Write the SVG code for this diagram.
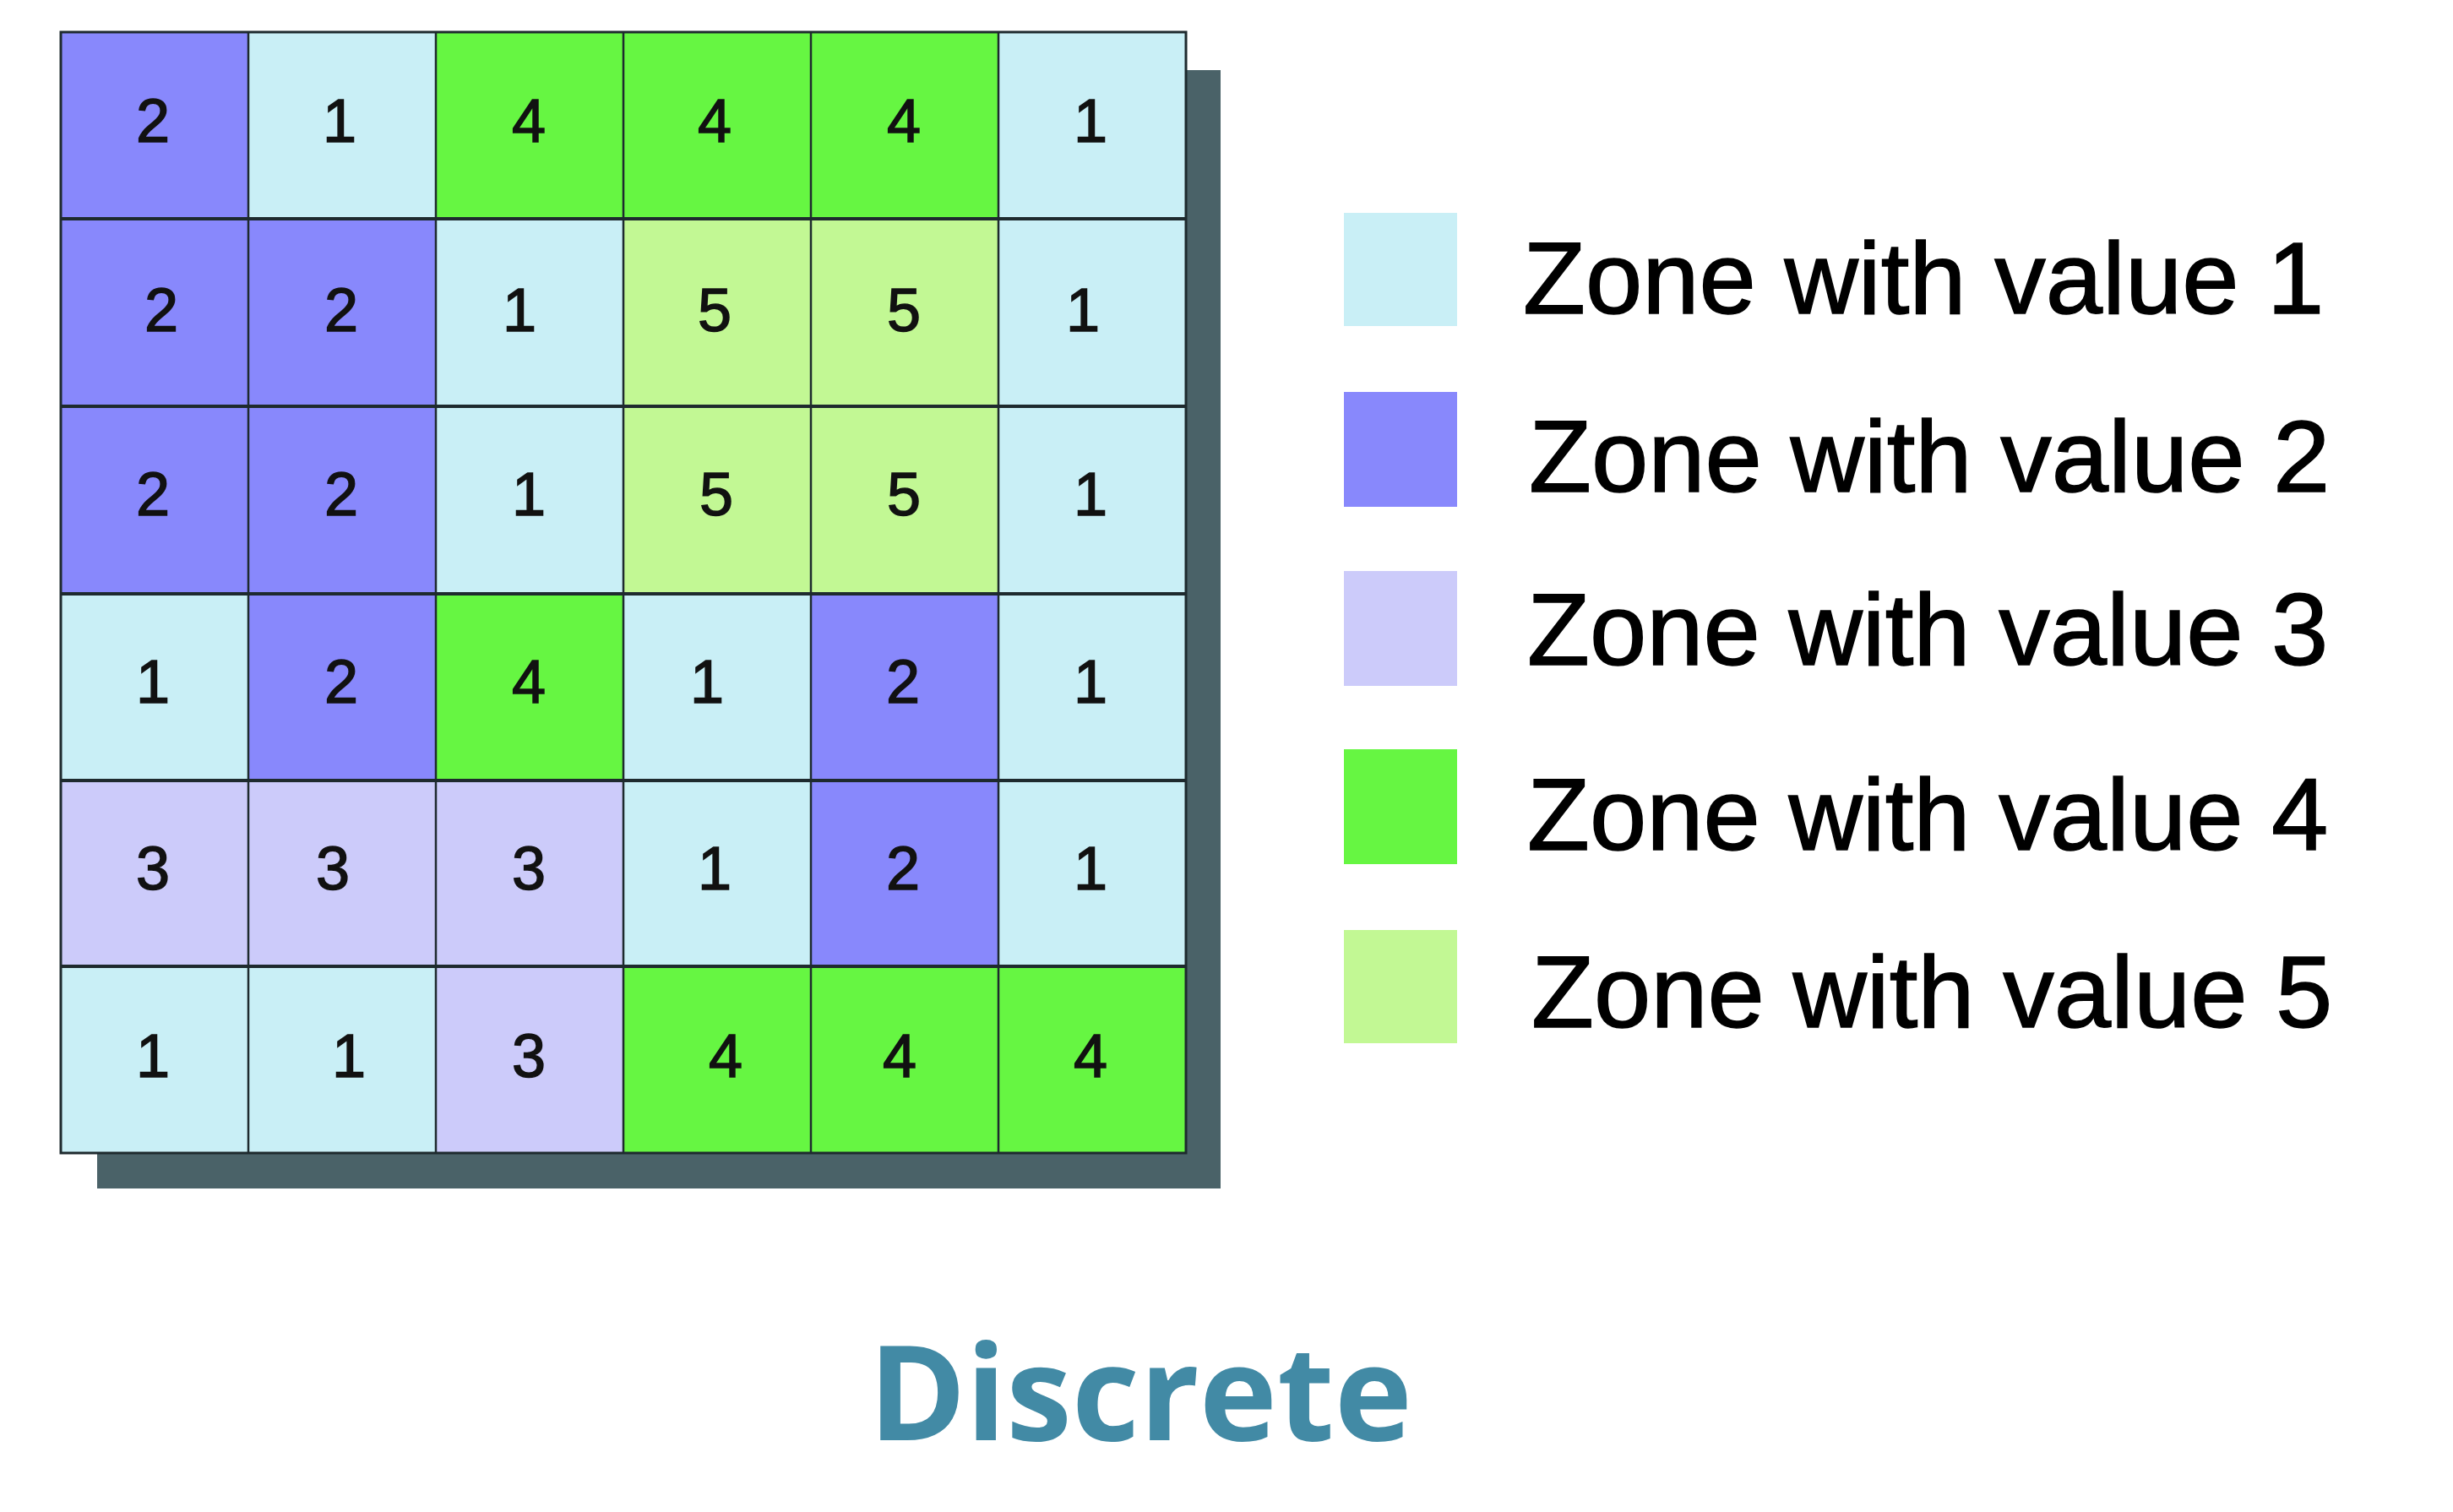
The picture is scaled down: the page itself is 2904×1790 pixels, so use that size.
<svg xmlns="http://www.w3.org/2000/svg" width="2904" height="1790" viewBox="0 0 2904 1790">
<style>
.c1{fill:#c9eff6}.c2{fill:#8888fc}.c3{fill:#cccbfa}.c4{fill:#66f642}.c5{fill:#c2f894}
.num{font-family:"Liberation Sans",Arial,sans-serif;font-size:72px;fill:#111;stroke:#111;stroke-width:1.5;text-anchor:middle}
.leg{font-family:"Liberation Sans",Arial,sans-serif;font-size:121px;fill:#000;stroke:#000;stroke-width:1.5}
.title{font-family:"Open Sans","Noto Sans",sans-serif;font-weight:700;font-size:156px;fill:#428aa5;text-anchor:middle}
.hl{stroke:#1e2a2e;stroke-width:4}
.vl{stroke:#1e2a2e;stroke-width:2.5}
</style>
<rect id="shadow" x="115" y="83" width="1330" height="1324" fill="#4a6268"/>
<g id="grid">
<g id="row0">
<rect class="c2" x="72" y="38" width="222" height="221"/><rect class="c1" x="294" y="38" width="222" height="221"/><rect class="c4" x="516" y="38" width="222" height="221"/><rect class="c4" x="738" y="38" width="222" height="221"/><rect class="c4" x="960" y="38" width="222" height="221"/><rect class="c1" x="1182" y="38" width="222" height="221"/>
</g>
<g id="row1">
<rect class="c2" x="72" y="259" width="222" height="222"/><rect class="c2" x="294" y="259" width="222" height="222"/><rect class="c1" x="516" y="259" width="222" height="222"/><rect class="c5" x="738" y="259" width="222" height="222"/><rect class="c5" x="960" y="259" width="222" height="222"/><rect class="c1" x="1182" y="259" width="222" height="222"/>
</g>
<g id="row2">
<rect class="c2" x="72" y="481" width="222" height="222"/><rect class="c2" x="294" y="481" width="222" height="222"/><rect class="c1" x="516" y="481" width="222" height="222"/><rect class="c5" x="738" y="481" width="222" height="222"/><rect class="c5" x="960" y="481" width="222" height="222"/><rect class="c1" x="1182" y="481" width="222" height="222"/>
</g>
<g id="row3">
<rect class="c1" x="72" y="703" width="222" height="221"/><rect class="c2" x="294" y="703" width="222" height="221"/><rect class="c4" x="516" y="703" width="222" height="221"/><rect class="c1" x="738" y="703" width="222" height="221"/><rect class="c2" x="960" y="703" width="222" height="221"/><rect class="c1" x="1182" y="703" width="222" height="221"/>
</g>
<g id="row4">
<rect class="c3" x="72" y="924" width="222" height="220"/><rect class="c3" x="294" y="924" width="222" height="220"/><rect class="c3" x="516" y="924" width="222" height="220"/><rect class="c1" x="738" y="924" width="222" height="220"/><rect class="c2" x="960" y="924" width="222" height="220"/><rect class="c1" x="1182" y="924" width="222" height="220"/>
</g>
<g id="row5">
<rect class="c1" x="72" y="1144" width="222" height="221"/><rect class="c1" x="294" y="1144" width="222" height="221"/><rect class="c3" x="516" y="1144" width="222" height="221"/><rect class="c4" x="738" y="1144" width="222" height="221"/><rect class="c4" x="960" y="1144" width="222" height="221"/><rect class="c4" x="1182" y="1144" width="222" height="221"/>
</g>
<g id="gridlines">
<line class="vl" x1="294" y1="38" x2="294" y2="1365"/><line class="vl" x1="516" y1="38" x2="516" y2="1365"/><line class="vl" x1="738" y1="38" x2="738" y2="1365"/><line class="vl" x1="960" y1="38" x2="960" y2="1365"/><line class="vl" x1="1182" y1="38" x2="1182" y2="1365"/>
<line class="hl" x1="72" y1="259" x2="1404" y2="259"/><line class="hl" x1="72" y1="481" x2="1404" y2="481"/><line class="hl" x1="72" y1="703" x2="1404" y2="703"/><line class="hl" x1="72" y1="924" x2="1404" y2="924"/><line class="hl" x1="72" y1="1144" x2="1404" y2="1144"/>
<rect x="72" y="38" width="1332" height="1327" fill="none" stroke="#1e2a2e" stroke-width="3"/>
</g>
<g id="numbers">
<text class="num" x="181" y="168">2</text><text class="num" x="402" y="168">1</text><text class="num" x="626" y="168">4</text><text class="num" x="846" y="168">4</text><text class="num" x="1070" y="168">4</text><text class="num" x="1291" y="168">1</text>
<text class="num" x="191" y="392">2</text><text class="num" x="404" y="392">2</text><text class="num" x="615" y="392">1</text><text class="num" x="846" y="392">5</text><text class="num" x="1070" y="392">5</text><text class="num" x="1282" y="392">1</text>
<text class="num" x="181" y="610">2</text><text class="num" x="404" y="610">2</text><text class="num" x="626" y="610">1</text><text class="num" x="848" y="610">5</text><text class="num" x="1070" y="610">5</text><text class="num" x="1291" y="610">1</text>
<text class="num" x="181" y="832">1</text><text class="num" x="404" y="832">2</text><text class="num" x="626" y="832">4</text><text class="num" x="837" y="832">1</text><text class="num" x="1069" y="832">2</text><text class="num" x="1291" y="832">1</text>
<text class="num" x="181" y="1053">3</text><text class="num" x="394" y="1053">3</text><text class="num" x="626" y="1053">3</text><text class="num" x="846" y="1053">1</text><text class="num" x="1069" y="1053">2</text><text class="num" x="1291" y="1053">1</text>
<text class="num" x="181" y="1275">1</text><text class="num" x="413" y="1275">1</text><text class="num" x="626" y="1275">3</text><text class="num" x="859" y="1275">4</text><text class="num" x="1065" y="1275">4</text><text class="num" x="1291" y="1275">4</text>
</g>
</g>
<g id="legend">
<g id="leg1"><rect class="c1" x="1591" y="252" width="134" height="134"/><text class="leg" x="1803" y="371">Zone with value 1</text></g>
<g id="leg2"><rect class="c2" x="1591" y="464" width="134" height="136"/><text class="leg" x="1810" y="582">Zone with value 2</text></g>
<g id="leg3"><rect class="c3" x="1591" y="676" width="134" height="136"/><text class="leg" x="1808" y="787">Zone with value 3</text></g>
<g id="leg4"><rect class="c4" x="1591" y="887" width="134" height="136"/><text class="leg" x="1808" y="1006">Zone with value 4</text></g>
<g id="leg5"><rect class="c5" x="1591" y="1101" width="134" height="134"/><text class="leg" x="1813" y="1216">Zone with value 5</text></g>
</g>
<text id="title" class="title" x="1350" y="1705">Discrete</text>
</svg>
